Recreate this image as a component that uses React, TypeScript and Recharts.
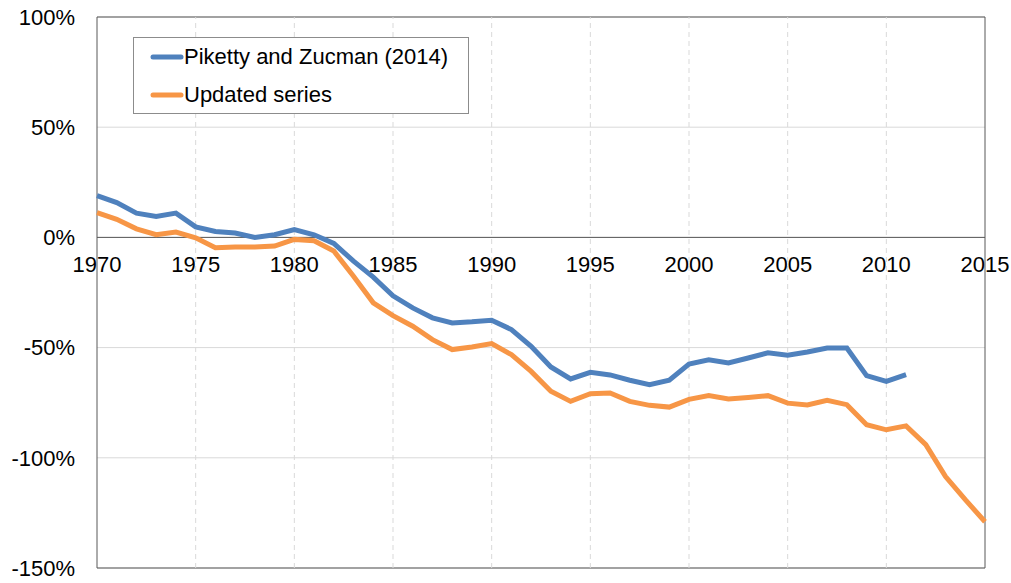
import {
  CartesianGrid,
  Legend,
  Line,
  LineChart,
  ReferenceArea,
  ReferenceDot,
  ReferenceLine,
  XAxis,
  YAxis
} from "recharts";

const years = [
  1970, 1971, 1972, 1973, 1974, 1975, 1976, 1977, 1978, 1979,
  1980, 1981, 1982, 1983, 1984, 1985, 1986, 1987, 1988, 1989,
  1990, 1991, 1992, 1993, 1994, 1995, 1996, 1997, 1998, 1999,
  2000, 2001, 2002, 2003, 2004, 2005, 2006, 2007, 2008, 2009,
  2010, 2011, 2012, 2013, 2014, 2015
];

const pikettyZucman = [
  19, 15.8, 11, 9.5, 11, 4.8, 2.7, 2, 0, 1.2,
  3.6, 1.2, -2.7, -10.8, -18, -26.5, -32, -36.5, -38.8, -38.3,
  -37.6, -41.8, -49.4, -58.8, -64.2, -61.2, -62.4, -64.8, -66.8, -64.8,
  -57.5, -55.5, -57, -54.7, -52.4, -53.5, -52, -50.2, -50.2, -62.7,
  -65.3, -62.3, null, null, null, null
];

const updatedSeries = [
  11.2, 8.2, 3.9, 1.2, 2.4, -0.2, -4.7, -4.4, -4.4, -3.9,
  -0.9, -1.5, -6.2, -17.6, -29.7, -35.5, -40.3, -46.4, -50.9, -49.7,
  -48.2, -53.2, -60.8, -69.8, -74.4, -70.9, -70.6, -74.4, -76.2, -77,
  -73.5, -71.8, -73.3, -72.6, -71.8, -75.2, -76, -73.9, -75.9, -85,
  -87.3, -85.5, -94, -108.5, -119, -129
];

const xTicks = [1970, 1975, 1980, 1985, 1990, 1995, 2000, 2005, 2010, 2015];
const yTicks = [-150, -100, -50, 0, 50, 100];

const data = years.map((year, i) => ({
  year,
  pz: pikettyZucman[i],
  updated: updatedSeries[i]
}));

const font = '"Liberation Sans", Arial, sans-serif';

function LegendBox({ payload }: any) {
  return (
    <div
      style={{
        width: 336,
        height: 77,
        border: "1px solid #8c8c8c",
        background: "#fff",
        boxSizing: "border-box",
        fontFamily: font
      }}
    >
      {(payload || []).map((entry: any) => (
        <div
          key={entry.value}
          style={{ display: "flex", alignItems: "center", height: 38, marginLeft: 15 }}
        >
          <svg width={35} height={8}>
            <line
              x1={4}
              x2={32}
              y1={4}
              y2={4}
              stroke={entry.color}
              strokeWidth={5}
              strokeLinecap="round"
            />
          </svg>
          <span style={{ fontSize: 22, color: "#000" }}>{entry.value}</span>
        </div>
      ))}
    </div>
  );
}

export default function App() {
  return (
    <div style={{ position: "absolute", left: 0, top: 0, background: "#fff" }}>
      <LineChart
        width={1011}
        height={583}
        data={data}
        margin={{ top: 17, right: 26, bottom: 15, left: 0 }}
      >
        <CartesianGrid stroke="#d9d9d9" vertical={false} />
        <XAxis
          type="number"
          dataKey="year"
          domain={[1970, 2015]}
          ticks={xTicks}
          tick={false}
          axisLine={false}
          tickLine={false}
          height={0}
        />
        <YAxis
          domain={[-150, 100]}
          ticks={yTicks}
          width={97}
          axisLine={false}
          tickLine={false}
          tickMargin={16}
          tickFormatter={(v) => `${v}%`}
          tick={{ fontSize: 22, fill: "#000", fontFamily: font }}
        />
        {xTicks.slice(1, -1).map((yr) => (
          <ReferenceLine key={`v${yr}`} x={yr} stroke="#d9d9d9" strokeDasharray="5 4" />
        ))}
        <ReferenceLine y={0} stroke="#595959" strokeWidth={1} />
        <ReferenceArea
          x1={1970}
          x2={2015}
          y1={-150}
          y2={100}
          fill="none"
          stroke="#595959"
          strokeWidth={1}
        />
        {xTicks.map((yr) => (
          <ReferenceDot
            key={yr}
            x={yr}
            y={0}
            r={0}
            fill="none"
            stroke="none"
            label={{
              value: String(yr),
              position: "bottom",
              offset: 19,
              fontSize: 22,
              fill: "#000",
              fontFamily: font
            }}
          />
        ))}
        <Legend
          layout="vertical"
          align="center"
          verticalAlign="middle"
          content={<LegendBox />}
          wrapperStyle={{ position: "absolute", left: 133, top: 37, width: 336 }}
        />
        <Line
          type="linear"
          dataKey="pz"
          name="Piketty and Zucman (2014)"
          stroke="#4f81bd"
          strokeWidth={5}
          dot={false}
          isAnimationActive={false}
        />
        <Line
          type="linear"
          dataKey="updated"
          name="Updated series"
          stroke="#f79646"
          strokeWidth={5}
          dot={false}
          isAnimationActive={false}
        />
      </LineChart>
    </div>
  );
}
